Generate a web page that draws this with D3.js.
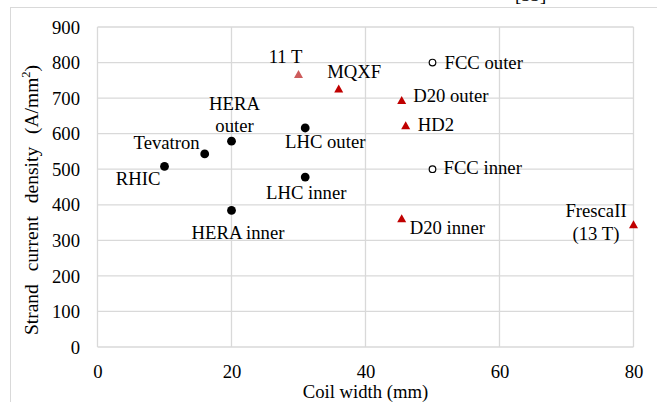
<!DOCTYPE html>
<html>
<head>
<meta charset="utf-8">
<script src="https://cdn.jsdelivr.net/npm/d3@7"></script>
<style>
  html, body { margin: 0; padding: 0; background: #fff; }
  svg { display: block; }
  text { font-family: "Liberation Serif", "Times New Roman", serif; fill: #000; }
</style>
</head>
<body>
<svg id="chart" width="657" height="402"></svg>
<script>
// Axis ticks
const xTicks = [0, 20, 40, 60, 80];
const yTicks = [0, 100, 200, 300, 400, 500, 600, 700, 800, 900];

// Nb-Ti magnets (filled circles)
const nbtiNames = ["RHIC", "Tevatron", "HERA outer", "HERA inner", "LHC outer", "LHC inner"];
const nbtiWidth = [10, 16, 20, 20, 31, 31];
const nbtiJ = [508, 543, 579, 384, 616, 478];

// FCC design (open circles)
const fccNames = ["FCC outer", "FCC inner"];
const fccWidth = [50, 50];
const fccJ = [800, 500];

// Nb3Sn magnets (triangles)
const nb3snNames = ["MQXF", "D20 outer", "HD2", "D20 inner", "FrescaII (13 T)"];
const nb3snWidth = [36, 45.4, 46, 45.4, 80];
const nb3snJ = [727, 695, 624, 362, 345];

// 11 T dipole (lighter triangle)
const elevenNames = ["11 T"];
const elevenWidth = [30];
const elevenJ = [768];

// Label text lines and placement around each marker
const labelLines = {
  "HERA outer": ["HERA", "outer"],
  "FrescaII (13 T)": ["FrescaII", "(13 T)"]
};
const labelPlace = {
  "RHIC":            { anchor: "end",    dx: -4,    dy: 19 },
  "Tevatron":        { anchor: "end",    dx: -5,    dy: -5 },
  "HERA outer":      { anchor: "middle", dx: 3,     dy: -31 },
  "HERA inner":      { anchor: "middle", dx: 6.5,   dy: 28.5 },
  "LHC outer":       { anchor: "middle", dx: 20,    dy: 20.5 },
  "LHC inner":       { anchor: "middle", dx: 1,     dy: 22 },
  "11 T":            { anchor: "middle", dx: -13,   dy: -10.5 },
  "MQXF":            { anchor: "start",  dx: -11.5, dy: -10.5 },
  "FCC outer":       { anchor: "start",  dx: 12,    dy: 6.5 },
  "FCC inner":       { anchor: "start",  dx: 11,    dy: 4.5 },
  "D20 outer":       { anchor: "start",  dx: 11.5,  dy: 2.5 },
  "HD2":             { anchor: "start",  dx: 12,    dy: 6 },
  "D20 inner":       { anchor: "start",  dx: 8,     dy: 16 },
  "FrescaII (13 T)": { anchor: "middle", dx: -37.5, dy: -7.5 }
};

const W = 657, H = 402;
const plot = { left: 97.5, right: 633.5, top: 27, bottom: 347 };
const fontSize = 18.7;
const lineHeight = 23.3;

const svg = d3.select("#chart");

// Outer chart frame
svg.append("rect")
  .attr("x", 10.5).attr("y", 7.5)
  .attr("width", 700).attr("height", 500)
  .attr("fill", "#fff")
  .attr("stroke", "#D9D9D9").attr("stroke-width", 1);

// Citation bracket above the frame, mostly cut by the top edge
svg.append("text")
  .attr("x", 515).attr("y", 0.5)
  .attr("font-size", fontSize)
  .text("[33]");

const x = d3.scaleLinear().domain([0, 80]).range([plot.left, plot.right]);
const y = d3.scaleLinear().domain([0, 900]).range([plot.bottom, plot.top]);

// Gridlines
const grid = svg.append("g").attr("stroke", "#D9D9D9").attr("stroke-width", 1.3);
grid.selectAll("line.h").data(yTicks).join("line")
  .attr("class", "h")
  .attr("x1", plot.left).attr("x2", plot.right)
  .attr("y1", d => y(d)).attr("y2", d => y(d));
grid.selectAll("line.v").data(xTicks).join("line")
  .attr("class", "v")
  .attr("y1", plot.top).attr("y2", plot.bottom)
  .attr("x1", d => x(d)).attr("x2", d => x(d));

// Axes (labels only, axis lines hidden)
const yAxis = svg.append("g")
  .attr("transform", `translate(${plot.left},0)`)
  .call(d3.axisLeft(y).tickValues(yTicks).tickSize(0).tickPadding(17.5));
yAxis.select(".domain").remove();
yAxis.selectAll("text")
  .attr("font-family", "Liberation Serif, Times New Roman, serif")
  .attr("font-size", fontSize).attr("fill", "#000")
  .attr("dy", "0.33em");

const xAxis = svg.append("g")
  .attr("transform", `translate(0,${plot.bottom})`)
  .call(d3.axisBottom(x).tickValues(xTicks).tickSize(0).tickPadding(18));
xAxis.select(".domain").remove();
xAxis.selectAll("text")
  .attr("font-family", "Liberation Serif, Times New Roman, serif")
  .attr("font-size", fontSize).attr("fill", "#000")
  .attr("dy", "0.71em");

// Axis titles
svg.append("text")
  .attr("x", (plot.left + plot.right) / 2).attr("y", 397.5)
  .attr("text-anchor", "middle")
  .attr("font-size", fontSize)
  .text("Coil width (mm)");

const yTitle = svg.append("text")
  .attr("transform", "translate(37.5,200) rotate(-90)")
  .attr("text-anchor", "middle")
  .attr("font-size", 19.5)
  .attr("word-spacing", 8);
yTitle.append("tspan").text("Strand current density (A/mm");
yTitle.append("tspan").attr("font-size", 12.5).attr("dy", -7.5).text("2");
yTitle.append("tspan").attr("dy", 7.5).text(")");

// Markers
const triPath = (w, h) => `M0,${-h / 2}L${w / 2},${h / 2}L${-w / 2},${h / 2}Z`;

function series(names, xs, ys) {
  return names.map((n, i) => ({ name: n, cx: x(xs[i]), cy: y(ys[i]) }));
}
const nbti = series(nbtiNames, nbtiWidth, nbtiJ);
const fcc = series(fccNames, fccWidth, fccJ);
const nb3sn = series(nb3snNames, nb3snWidth, nb3snJ);
const eleven = series(elevenNames, elevenWidth, elevenJ);

const marks = svg.append("g");
marks.selectAll("circle.nbti").data(nbti).join("circle")
  .attr("class", "nbti")
  .attr("cx", d => d.cx).attr("cy", d => d.cy).attr("r", 4.4)
  .attr("fill", "#000");
marks.selectAll("circle.fcc").data(fcc).join("circle")
  .attr("class", "fcc")
  .attr("cx", d => d.cx).attr("cy", d => d.cy).attr("r", 3.3)
  .attr("fill", "#fff").attr("stroke", "#000").attr("stroke-width", 1.2);
marks.selectAll("path.nb3sn").data(nb3sn).join("path")
  .attr("class", "nb3sn")
  .attr("transform", d => `translate(${d.cx},${d.cy})`)
  .attr("d", triPath(9, 8))
  .attr("fill", "#C00000");
marks.selectAll("path.eleven").data(eleven).join("path")
  .attr("class", "eleven")
  .attr("transform", d => `translate(${d.cx},${d.cy})`)
  .attr("d", triPath(9, 8))
  .attr("fill", "#CD5C5C");

// Data labels
const all = [...nbti, ...fcc, ...nb3sn, ...eleven];
const labels = svg.append("g").attr("font-size", fontSize);
all.forEach(d => {
  const p = labelPlace[d.name];
  const lines = labelLines[d.name] || [d.name];
  const t = labels.append("text")
    .attr("text-anchor", p.anchor)
    .attr("x", d.cx + p.dx)
    .attr("y", d.cy + p.dy);
  lines.forEach((ln, i) => {
    t.append("tspan")
      .attr("x", d.cx + p.dx)
      .attr("dy", i === 0 ? 0 : (d.name === "HERA outer" ? 21.7 : lineHeight))
      .text(ln);
  });
});
</script>
</body>
</html>
